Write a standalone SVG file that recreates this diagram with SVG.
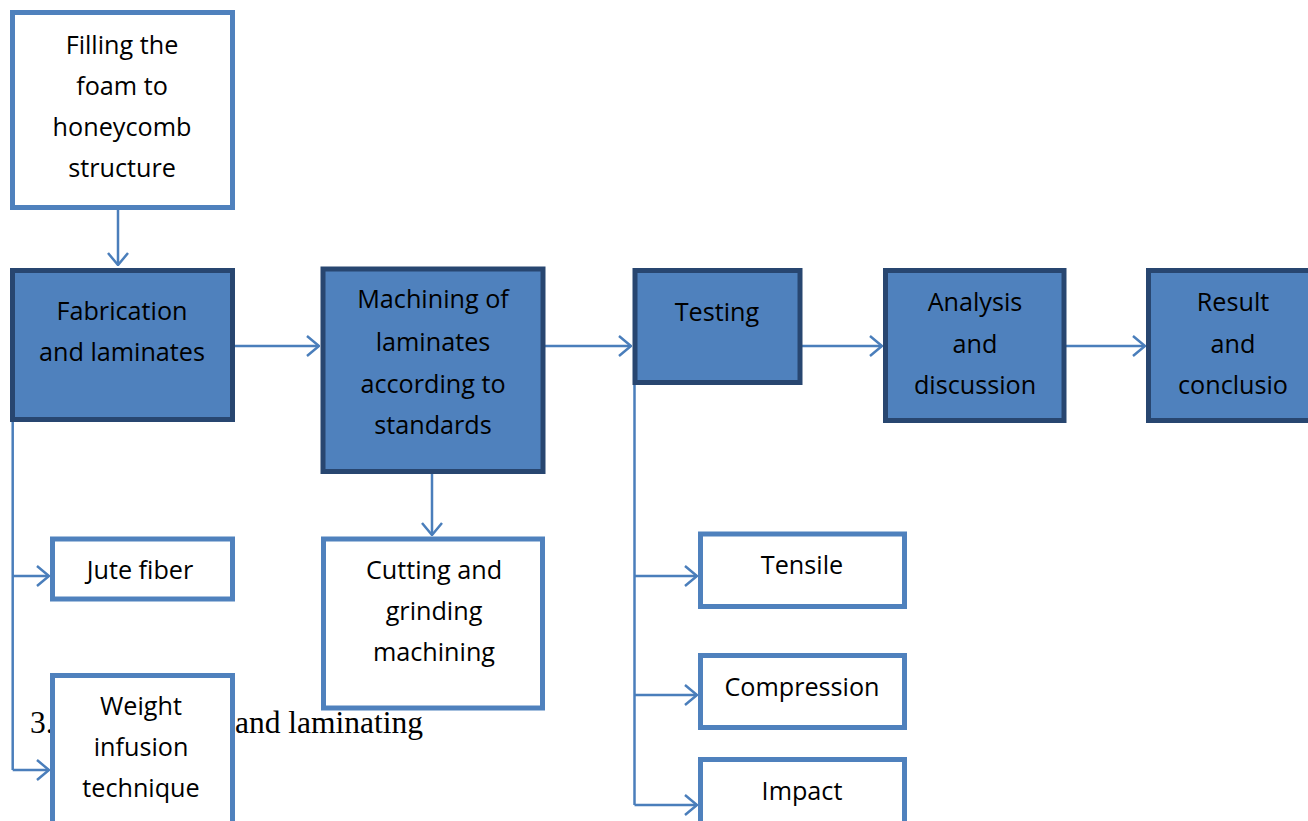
<svg xmlns="http://www.w3.org/2000/svg" width="1308" height="821" viewBox="0 0 1308 821">
<defs>
<style>
.dark{fill:#4F81BD;stroke:#284670;stroke-width:5}
.light{fill:#FFFFFF;stroke:#4F81BD;stroke-width:5}
.t{font-family:"Open Sans","Liberation Sans",sans-serif;font-size:25.2px;fill:#000;text-anchor:middle}
.c{fill:none;stroke:#4A7EBB;stroke-width:2.5}
.h{font-family:"Liberation Serif",serif;font-size:31.5px;fill:#000}
</style>
<marker id="ah" viewBox="0 0 14 22" refX="13" refY="11" markerWidth="14" markerHeight="22" markerUnits="userSpaceOnUse" orient="auto">
<path d="M1,1 L13,11 L1,21" fill="none" stroke="#4A7EBB" stroke-width="2.5"/>
</marker>
</defs>
<rect width="1308" height="821" fill="#FFFFFF"/>
<g id="heading">
<text class="h" x="30" y="733">3.</text>
<text class="h" x="235" y="733">and laminating</text>
</g>
<g id="connectors">
<path class="c" d="M118,209 V265" marker-end="url(#ah)"/>
<path class="c" d="M234,346 H319" marker-end="url(#ah)"/>
<path class="c" d="M545,346 H631" marker-end="url(#ah)"/>
<path class="c" d="M432,473 V535" marker-end="url(#ah)"/>
<path class="c" d="M802,346 H882" marker-end="url(#ah)"/>
<path class="c" d="M1065,346 H1145" marker-end="url(#ah)"/>
<path class="c" d="M12.7,422 V770"/>
<path class="c" d="M12.7,576 H49" marker-end="url(#ah)"/>
<path class="c" d="M12.7,770 H49" marker-end="url(#ah)"/>
<path class="c" d="M634.5,384 V805"/>
<path class="c" d="M634.5,576 H697" marker-end="url(#ah)"/>
<path class="c" d="M634.5,695 H697" marker-end="url(#ah)"/>
<path class="c" d="M634.5,805 H697" marker-end="url(#ah)"/>
</g>
<g id="filling">
<rect class="light" x="12.5" y="12.5" width="220" height="195"/>
<text class="t" x="122" y="54">Filling the</text>
<text class="t" x="122" y="95">foam to</text>
<text class="t" x="122" y="136">honeycomb</text>
<text class="t" x="122" y="177">structure</text>
</g>
<g id="fabrication">
<rect class="dark" x="12.5" y="270.5" width="220" height="149"/>
<text class="t" x="122" y="320">Fabrication</text>
<text class="t" x="122" y="361">and laminates</text>
</g>
<g id="machining">
<rect class="dark" x="323" y="269" width="220" height="202.5"/>
<text class="t" x="433" y="308">Machining of</text>
<text class="t" x="433" y="351">laminates</text>
<text class="t" x="433" y="393">according to</text>
<text class="t" x="433" y="434">standards</text>
</g>
<g id="testing">
<rect class="dark" x="635" y="270.5" width="165" height="112"/>
<text class="t" x="717" y="321">Testing</text>
</g>
<g id="analysis">
<rect class="dark" x="885.5" y="270.5" width="178.5" height="150"/>
<text class="t" x="975" y="311">Analysis</text>
<text class="t" x="975" y="353">and</text>
<text class="t" x="975" y="394">discussion</text>
</g>
<g id="result">
<rect class="dark" x="1148.5" y="270.5" width="170" height="150"/>
<text class="t" x="1233" y="311">Result</text>
<text class="t" x="1233" y="353">and</text>
<text class="t" x="1233" y="394">conclusio</text>
</g>
<g id="jute">
<rect class="light" x="52.5" y="539" width="180" height="60"/>
<text class="t" x="140" y="579">Jute fiber</text>
</g>
<g id="weight">
<rect class="light" x="52.5" y="675.5" width="180" height="160"/>
<text class="t" x="141" y="715">Weight</text>
<text class="t" x="141" y="756">infusion</text>
<text class="t" x="141" y="797">technique</text>
</g>
<g id="cutting">
<rect class="light" x="323.5" y="539" width="219" height="169"/>
<text class="t" x="434" y="579">Cutting and</text>
<text class="t" x="434" y="620">grinding</text>
<text class="t" x="434" y="661">machining</text>
</g>
<g id="tensile">
<rect class="light" x="700.5" y="534" width="204" height="72.5"/>
<text class="t" x="802" y="574">Tensile</text>
</g>
<g id="compression">
<rect class="light" x="700.5" y="655.5" width="204" height="72"/>
<text class="t" x="802" y="696">Compression</text>
</g>
<g id="impact">
<rect class="light" x="700.5" y="759.5" width="204" height="80"/>
<text class="t" x="802" y="800">Impact</text>
</g>
</svg>
